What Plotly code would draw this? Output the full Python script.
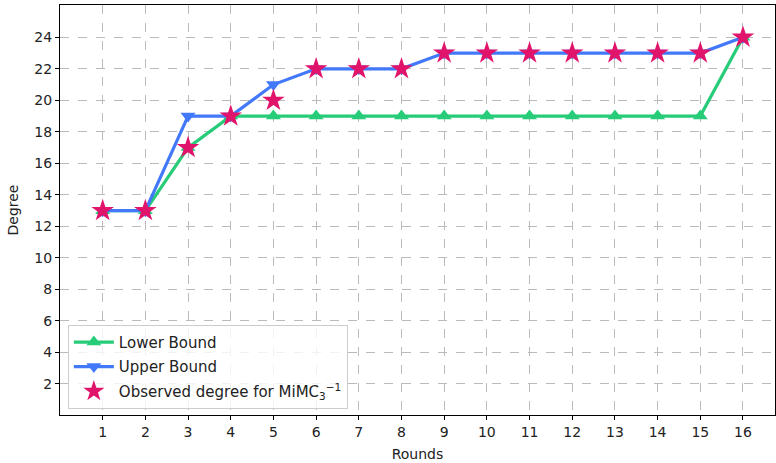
import plotly.graph_objects as go

rounds = list(range(1, 17))
lower_bound = [13, 13, 17, 19, 19, 19, 19, 19, 19, 19, 19, 19, 19, 19, 19, 24]
upper_bound = [13, 13, 19, 19, 21, 22, 22, 22, 23, 23, 23, 23, 23, 23, 23, 24]
observed = [13, 13, 17, 19, 20, 22, 22, 22, 23, 23, 23, 23, 23, 23, 23, 24]
y_ticks = list(range(2, 25, 2))

fig = go.Figure()
fig.add_trace(go.Scatter(x=rounds, y=lower_bound, mode="lines+markers", name="Lower Bound",
                         legendgroup="a",
                         line=dict(color="#26CC78", width=3.2),
                         marker=dict(symbol="triangle-up", size=13, color="#26CC78")))
fig.add_trace(go.Scatter(x=rounds, y=upper_bound, mode="lines+markers", name="Upper Bound",
                         legendgroup="b",
                         line=dict(color="#4278FA", width=3.2),
                         marker=dict(symbol="triangle-down", size=13, color="#4278FA")))
fig.add_trace(go.Scatter(x=rounds, y=observed, mode="markers",
                         name="Observed degree for MiMC<sub>3</sub><sup>\u22121</sup>",
                         legendgroup="c",
                         marker=dict(symbol="star", size=17, color="#E0146A")))

axis_common = dict(showline=True, linecolor="black", linewidth=1, mirror=True,
                   ticks="outside", ticklen=4, tickcolor="black", automargin=False,
                   showgrid=True, gridcolor="#BBBBBB", griddash="dash", gridwidth=1,
                   zeroline=False, tickfont=dict(size=14, color="#222"))

fig.update_layout(
    width=776, height=463,
    margin=dict(l=60, r=1, t=5, b=48),
    paper_bgcolor="white", plot_bgcolor="white",
    font=dict(family="DejaVu Sans", size=14, color="#222"),
    xaxis=dict(range=[0, 16.75], tickvals=rounds,
               title=dict(text="Rounds", standoff=10, font=dict(size=14)), **axis_common),
    yaxis=dict(range=[0.03, 26.05], tickvals=y_ticks,
               title=dict(text="Degree", standoff=12, font=dict(size=14)), **axis_common),
    legend=dict(x=0.011, y=0.015, xanchor="left", yanchor="bottom",
                bgcolor="rgba(255,255,255,0.8)", bordercolor="#CCCCCC", borderwidth=1,
                font=dict(size=15), tracegroupgap=2, itemwidth=40),
    showlegend=True,
)

fig.write_html("out.html", config={"displayModeBar": False},
               post_script="document.body.style.margin='0';document.body.style.overflow='hidden';")
